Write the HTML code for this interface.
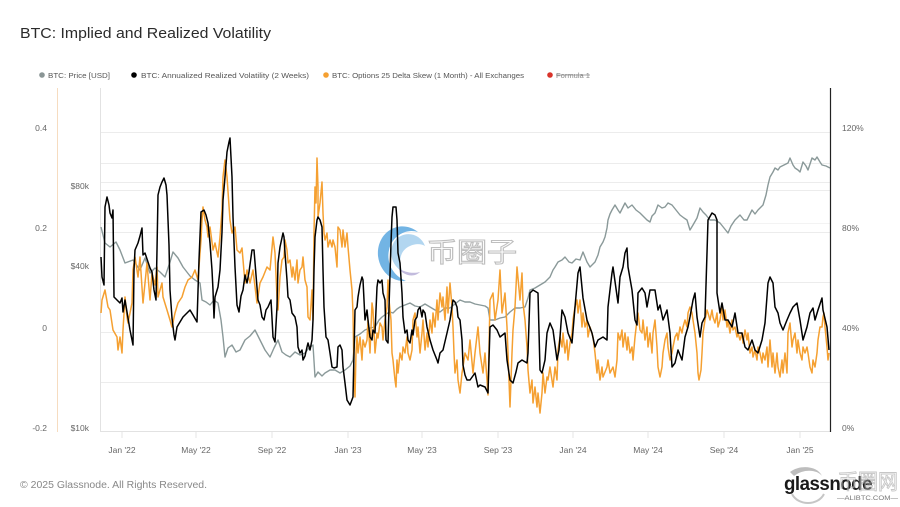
<!DOCTYPE html>
<html>
<head>
<meta charset="utf-8">
<style>
html,body{margin:0;padding:0;background:#fff;}
svg{display:block;}
text{font-family:"Liberation Sans","Noto Sans CJK SC",sans-serif;}
</style>
</head>
<body>
<svg width="900" height="507" viewBox="0 0 900 507" xmlns="http://www.w3.org/2000/svg">
<rect width="900" height="507" fill="#fff"/>
<!-- Title -->
<text x="20" y="38" font-size="15" fill="#2b2b2b" textLength="251" lengthAdjust="spacingAndGlyphs">BTC: Implied and Realized Volatility</text>

<!-- Legend -->
<g font-size="7.5" fill="#555">
<circle cx="42" cy="75" r="2.8" fill="#8a9595"/>
<text x="48" y="77.8" textLength="62" lengthAdjust="spacingAndGlyphs">BTC: Price [USD]</text>
<circle cx="134" cy="75" r="2.8" fill="#000"/>
<text x="141" y="77.8" textLength="168" lengthAdjust="spacingAndGlyphs">BTC: Annualized Realized Volatility (2 Weeks)</text>
<circle cx="326" cy="75" r="2.8" fill="#f5a031"/>
<text x="332" y="77.8" textLength="192" lengthAdjust="spacingAndGlyphs">BTC: Options 25 Delta Skew (1 Month) - All Exchanges</text>
<circle cx="550" cy="75" r="2.8" fill="#d9342b"/>
<text x="556" y="77.8" textLength="34" lengthAdjust="spacingAndGlyphs" fill="#888">Formula 1</text>
<line x1="556" y1="75" x2="590" y2="75" stroke="#888" stroke-width="0.7"/>
</g>

<!-- Gridlines -->
<g stroke="#ececec" stroke-width="1">
<line x1="100" y1="132.5" x2="830" y2="132.5"/>
<line x1="100" y1="163.5" x2="830" y2="163.5"/>
<line x1="100" y1="182.5" x2="830" y2="182.5"/>
<line x1="100" y1="190.5" x2="830" y2="190.5"/>
<line x1="100" y1="223.5" x2="830" y2="223.5" stroke="#f3f3f3"/>
<line x1="100" y1="232.5" x2="830" y2="232.5"/>
<line x1="100" y1="282.5" x2="830" y2="282.5"/>
<line x1="100" y1="332.5" x2="830" y2="332.5"/>
<line x1="100" y1="382.5" x2="830" y2="382.5"/>
<line x1="100" y1="431.5" x2="830" y2="431.5" stroke="#e2e2e2"/>
</g>
<!-- axis lines -->
<line x1="57.5" y1="88" x2="57.5" y2="432" stroke="#f6dcc0" stroke-width="1"/>
<line x1="100.5" y1="88" x2="100.5" y2="432" stroke="#e2e2e2" stroke-width="1"/>
<!-- x ticks -->
<g stroke="#e6e6e6" stroke-width="1">
<line x1="122" y1="432" x2="122" y2="438"/>
<line x1="196" y1="432" x2="196" y2="438"/>
<line x1="272" y1="432" x2="272" y2="438"/>
<line x1="348" y1="432" x2="348" y2="438"/>
<line x1="422" y1="432" x2="422" y2="438"/>
<line x1="498" y1="432" x2="498" y2="438"/>
<line x1="573" y1="432" x2="573" y2="438"/>
<line x1="648" y1="432" x2="648" y2="438"/>
<line x1="724" y1="432" x2="724" y2="438"/>
<line x1="800" y1="432" x2="800" y2="438"/>
</g>

<!-- Left axis labels -->
<g font-size="8.5" fill="#666" text-anchor="end">
<text x="47" y="131">0.4</text>
<text x="47" y="231">0.2</text>
<text x="47" y="331">0</text>
<text x="47" y="431">-0.2</text>
<text x="89" y="189">$80k</text>
<text x="89" y="269">$40k</text>
<text x="89" y="431">$10k</text>
</g>
<!-- Right axis labels -->
<g font-size="8.5" fill="#666">
<text x="842" y="131">120%</text>
<text x="842" y="231">80%</text>
<text x="842" y="331">40%</text>
<text x="842" y="431">0%</text>
</g>
<!-- X labels -->
<g font-size="8.5" fill="#666" text-anchor="middle">
<text x="122" y="453">Jan '22</text>
<text x="196" y="453">May '22</text>
<text x="272" y="453">Sep '22</text>
<text x="348" y="453">Jan '23</text>
<text x="422" y="453">May '23</text>
<text x="498" y="453">Sep '23</text>
<text x="573" y="453">Jan '24</text>
<text x="648" y="453">May '24</text>
<text x="724" y="453">Sep '24</text>
<text x="800" y="453">Jan '25</text>
</g>

<!-- Watermark center -->
<g opacity="0.85">
<path d="M418,232 C400,218 376,232 378,256 C380,272 392,282 406,281 C394,276 386,264 389,250 C392,236 406,228 418,232 Z" fill="#5aa7e0"/>
<path d="M425,246 C420,232 402,230 394,242 C388,252 392,266 402,271 C398,262 400,250 410,246 C416,243 422,244 425,246 Z" fill="#8fc3ea" opacity="0.8"/>
<path d="M398,268 C404,276 414,278 420,272 C412,274 404,272 398,268 Z" fill="#9a8fc8" opacity="0.7"/>
<text x="427" y="262" font-size="27" font-family="'Noto Sans CJK SC',sans-serif" fill="#fff" stroke="#b5b5b5" stroke-width="1.1" textLength="90" lengthAdjust="spacingAndGlyphs">币圈子</text>
</g>

<!-- Series: price (gray) -->
<polyline fill="none" stroke="#8a9999" stroke-width="1.4" stroke-linejoin="round" points="101,227 105,243 110,247 116,242 120,250 125,263 133,260 140,270 145,258 150,273 155,268 160,272 165,277 170,262 173,252 178,258 183,267 190,276 195,280 200,283 202,300 206,302 210,305 214,300 218,303 221,320 223,337 225,357 228,348 232,345 236,352 240,350 245,340 250,336 255,330 260,340 265,350 270,357 274,348 278,340 282,352 286,355 290,357 295,352 300,355 305,353 309,348 313,345 315,377 318,372 322,376 325,373 330,370 335,370 340,373 345,370 350,366 353,360 355,337 360,334 365,330 370,328 375,327 379,320 382,317 386,314 390,312 393,313 397,309 400,307 405,305 410,303 415,306 420,307 425,304 430,307 435,310 440,312 445,308 450,308 455,304 460,300 465,302 470,302 475,304 480,305 485,306 488,308 490,320 495,320 500,318 505,317 510,312 515,308 520,308 525,307 528,298 530,290 535,288 540,285 545,282 550,277 553,270 555,267 558,262 562,260 565,257 569,262 572,263 576,259 580,260 583,252 587,262 590,267 595,262 598,255 600,247 603,242 605,237 607,228 608,220 610,214 612,210 615,205 618,210 620,213 623,207 625,203 628,208 632,205 636,210 640,213 643,216 647,220 650,222 652,216 655,213 658,205 662,208 665,207 668,203 672,205 676,210 680,215 684,218 687,220 690,230 693,225 697,218 700,208 703,212 706,215 710,220 715,220 720,223 724,228 728,233 731,226 735,220 740,215 744,220 747,220 752,210 755,214 758,210 763,205 766,195 768,185 770,177 773,172 775,168 778,170 780,167 784,165 788,163 790,158 793,165 795,168 798,170 800,172 803,162 806,166 808,170 810,164 812,158 815,160 817,157 820,162 822,165 826,166 830,168"/>

<!-- Series: skew (orange) -->
<polyline fill="none" stroke="#f5a031" stroke-width="1.5" stroke-linejoin="round" points="101,313 102,300 105,290 108,307 110,310 113,330 117,337 118,350 120,337 122,353 123,330 125,297 127,317 128,323 132,303 133,270 135,257 138,277 140,257 143,303 147,263 150,300 152,273 155,285 157,267 158,297 162,283 163,297 167,310 170,320 172,327 175,313 178,303 182,297 185,287 188,280 192,277 195,270 198,280 201,240 202,220 203,207 205,220 207,227 208,237 210,227 213,250 215,243 218,257 220,237 222,210 223,177 225,160 227,177 230,220 232,233 235,227 237,250 240,253 242,248 245,283 247,270 250,283 253,270 257,303 260,283 263,277 267,267 270,270 273,237 275,253 277,297 278,310 280,277 282,260 284,257 285,240 287,250 288,263 290,260 292,277 293,267 295,280 297,260 298,283 300,270 302,267 303,257 305,280 307,287 308,317 310,320 312,290 313,320 314,233 315,187 316,203 317,158 318,187 318,217 320,203 322,182 323,213 324,233 325,240 327,233 328,247 330,240 332,247 333,240 335,247 337,267 338,227 340,230 342,247 343,230 345,247 347,233 348,247 350,270 352,290 353,313 354,373 355,397 356,353 357,337 358,353 360,337 362,360 363,340 365,347 367,340 368,320 370,353 372,303 373,310 375,353 377,333 378,338 380,323 382,327 383,340 385,320 387,307 388,280 389,300 391,320 392,353 393,360 395,380 396,387 397,360 398,373 400,353 402,360 403,347 405,353 407,337 408,353 410,360 412,350 413,320 415,313 417,337 418,327 420,353 422,333 423,320 425,350 427,333 428,347 430,320 432,333 433,313 435,327 437,300 438,320 440,293 442,307 443,297 445,320 447,287 448,313 450,283 452,307 453,327 454,353 455,373 457,360 458,380 460,393 462,373 463,367 465,353 468,360 470,340 473,373 475,353 478,327 480,353 483,373 485,353 487,380 488,395 490,300 493,293 495,320 498,300 500,270 502,313 505,293 507,327 508,353 510,407 512,353 513,330 515,307 517,267 520,300 522,273 523,303 525,320 527,347 528,370 530,393 532,380 533,403 535,387 537,407 538,393 540,413 542,393 543,373 545,393 547,377 548,380 550,367 553,387 555,367 557,380 558,350 560,337 562,347 563,333 565,353 567,340 568,360 570,343 572,333 573,320 575,307 577,300 578,313 580,300 582,327 583,313 585,327 587,320 588,337 590,327 593,337 595,353 597,373 598,360 600,380 602,367 603,377 607,367 608,360 610,373 613,367 615,377 617,360 618,333 620,340 622,330 623,347 625,333 627,350 628,337 630,353 632,347 633,360 635,337 637,320 638,313 640,330 642,333 643,320 645,340 647,327 648,347 650,333 652,353 653,333 655,320 657,347 658,367 660,377 662,367 663,353 665,340 667,333 668,347 670,360 672,353 673,347 675,337 677,333 678,340 680,327 682,333 683,327 685,320 687,327 688,313 690,307 692,313 693,320 695,333 697,353 698,373 699,380 701,370 702,353 703,333 705,320 707,310 708,313 710,320 712,310 713,317 715,323 717,313 718,327 720,320 722,307 723,320 725,310 727,327 728,320 730,333 732,320 733,330 735,327 737,337 738,333 740,340 742,333 743,343 745,330 747,340 748,333 750,353 752,347 753,357 755,350 757,360 758,347 760,353 762,363 763,353 765,360 767,347 768,367 770,340 772,367 773,353 775,373 777,353 778,367 780,377 782,360 783,373 785,353 787,373 788,333 790,323 792,347 793,340 795,333 797,353 798,340 800,353 802,360 803,347 805,353 807,347 808,353 810,367 812,373 813,360 815,367 817,353 818,340 820,327 822,327 823,317 824,313 825,327 827,347 828,360 829,353"/>

<!-- Series: realized vol (black) -->
<polyline fill="none" stroke="#000" stroke-width="1.5" stroke-linejoin="round" points="101,257 102,277 104,285 105,207 107,197 109,205 110,213 112,218 113,210 114,297 117,300 120,303 122,298 123,312 125,300 128,318 130,330 133,345 134,270 135,250 138,243 140,236 142,228 143,255 145,253 148,262 150,268 152,272 154,290 156,300 157,250 158,195 160,187 162,182 164,178 166,185 167,195 169,245 170,290 172,318 174,335 175,340 177,327 180,322 183,317 187,313 190,310 193,315 197,322 199,260 201,212 204,210 206,215 208,223 210,243 212,270 213,290 214,318 215,297 218,287 220,270 222,232 223,200 225,177 227,152 229,142 230,138 232,177 233,217 235,267 237,305 239,312 241,296 243,290 245,275 247,283 249,272 252,250 254,250 256,275 258,300 260,305 262,317 264,320 266,310 268,307 271,300 272,318 273,337 275,342 277,307 278,263 280,247 283,233 284,237 285,253 287,280 288,297 290,300 292,313 295,317 297,327 298,347 300,353 302,350 303,360 305,356 307,347 308,343 310,350 312,340 313,320 314,270 315,237 317,220 318,217 320,220 322,227 323,270 324,307 326,337 328,340 330,353 332,367 334,368 337,367 338,347 340,345 342,350 343,367 345,383 347,400 350,405 353,397 354,353 355,310 357,307 358,297 360,285 362,277 363,280 365,320 367,310 368,320 370,337 372,340 373,330 375,333 377,287 378,280 380,283 382,280 383,293 385,300 386,340 388,343 389,307 391,243 392,217 393,207 396,207 397,220 398,253 400,263 402,293 403,317 405,333 407,330 408,340 410,343 412,330 413,335 415,320 417,317 418,310 420,307 422,317 423,310 425,313 427,327 430,340 433,350 437,360 438,363 440,353 443,350 447,333 450,320 453,300 455,302 457,307 458,317 460,320 462,340 463,365 465,375 467,380 470,380 475,373 478,387 480,385 485,387 488,393 490,327 493,325 497,330 500,337 505,333 507,360 510,380 513,383 516,372 518,363 522,360 527,363 528,353 530,293 533,290 538,293 540,370 542,373 545,360 547,333 550,323 553,330 555,345 557,360 559,350 560,337 562,310 565,317 568,333 572,343 575,307 578,273 580,267 583,298 587,320 592,333 595,347 598,340 603,337 607,340 608,307 612,273 613,267 618,303 620,277 623,267 625,253 627,248 628,267 632,290 635,320 637,325 638,293 642,288 645,293 647,307 650,290 653,290 655,290 658,310 660,305 663,320 667,310 670,333 672,367 675,363 678,350 682,360 685,337 688,327 690,317 693,300 695,293 697,317 700,337 702,323 705,317 707,253 708,220 712,213 715,215 717,220 717,293 720,313 722,303 725,320 728,320 732,327 735,313 738,333 742,333 745,347 748,350 752,340 755,350 758,353 762,340 765,323 768,283 770,277 773,283 775,307 778,313 780,323 783,330 787,320 790,313 793,307 797,303 800,320 803,340 807,327 810,313 813,308 815,320 818,310 822,298 823,310 827,327 829,350"/>

<!-- Right axis line -->
<line x1="830.5" y1="88" x2="830.5" y2="432" stroke="#222" stroke-width="1.2"/>

<!-- Footer -->
<text x="20" y="488" font-size="10" fill="#888" textLength="187" lengthAdjust="spacingAndGlyphs">© 2025 Glassnode. All Rights Reserved.</text>
<text x="784" y="490" font-size="19" font-weight="bold" fill="#1a1a1a" textLength="88" lengthAdjust="spacingAndGlyphs" letter-spacing="-0.5">glassnode</text>
<g opacity="0.55">
<text x="838" y="489" font-size="21" font-family="'Noto Sans CJK SC',sans-serif" fill="#fff" stroke="#999" stroke-width="0.9" textLength="60" lengthAdjust="spacingAndGlyphs">币圈网</text>
<path d="M790,472 C800,464 818,466 822,476 C818,470 804,468 794,476 Z" fill="#888"/>
<path d="M792,494 C798,506 818,506 824,494" fill="none" stroke="#999" stroke-width="2"/>
</g>
<text x="837" y="500" font-size="6" fill="#777" textLength="61" lengthAdjust="spacingAndGlyphs">—ALIBTC.COM—</text>
</svg>
</body>
</html>
